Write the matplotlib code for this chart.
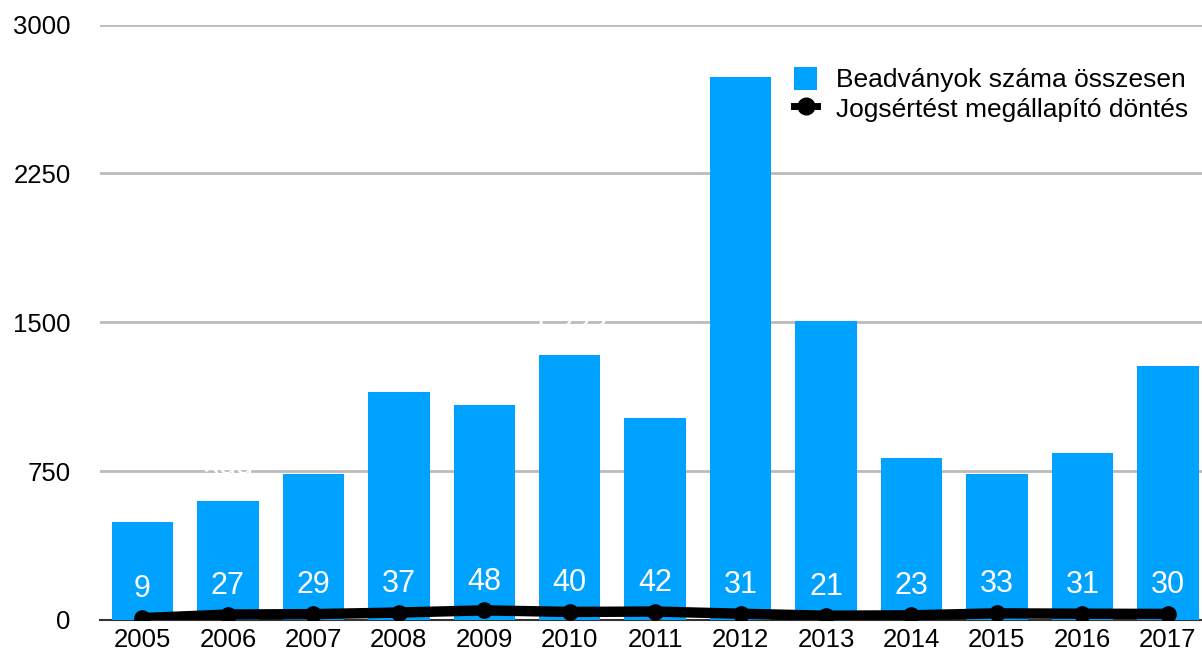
import matplotlib
matplotlib.use("Agg")
import matplotlib.pyplot as plt
from matplotlib.lines import Line2D
from matplotlib.patches import Patch

plt.rcParams['font.family'] = ['Liberation Sans', 'DejaVu Sans']

years = ['2005', '2006', '2007', '2008', '2009', '2010', '2011', '2012',
         '2013', '2014', '2015', '2016', '2017']
submissions = [491, 599, 733, 1146, 1081, 1333, 1015, 2735, 1505, 814, 733, 839, 1282]
violations = [9, 27, 29, 37, 48, 40, 42, 31, 21, 23, 33, 31, 30]
yticks = [0, 750, 1500, 2250, 3000]

bar_color = '#00A2FF'

fig = plt.figure(figsize=(12.02, 6.57), dpi=100)
ax = fig.add_axes([0.083, 0.0565, 0.917, 0.906])

x = list(range(len(years)))
ax.bar(x, submissions, width=0.72, color=bar_color, zorder=2)
for xi, v in zip(x, submissions):
    ax.text(xi, v + 60, f"{v:,}", ha='center', va='bottom', color='white',
            fontsize=22, zorder=1.5, clip_on=True)

ax.plot(x, violations, color='black', lw=7.5, marker='o', ms=11, zorder=3,
        solid_capstyle='round')
for xi, v in zip(x, violations):
    ax.text(xi, v + 105, str(v), ha='center', va='baseline', color='white',
            fontsize=22, zorder=4)

ax.set_ylim(0, 3000)
ax.set_xlim(-0.5, 12.4)
ax.set_yticks(yticks)
ax.set_yticklabels([str(t) for t in yticks])
ax.set_xticks(x)
ax.set_xticklabels(years)
ax.grid(axis='y', color='#bbbbbb', lw=2, zorder=0)
ax.set_axisbelow(True)
for s in ['top', 'right', 'left']:
    ax.spines[s].set_visible(False)
ax.spines['bottom'].set_color('#333333')
ax.spines['bottom'].set_linewidth(1.5)
ax.spines['bottom'].set_zorder(1)
ax.tick_params(axis='both', length=0, labelsize=18.5)
ax.tick_params(axis='y', pad=21)
ax.tick_params(axis='x', pad=6)

handles = [
    Patch(facecolor=bar_color, edgecolor='none'),
    Line2D([0], [0], color='black', marker='o', ms=12, lw=5),
]
labels = ['Beadványok száma összesen', 'Jogsértést megállapító döntés']
ax.legend(handles, labels, loc='upper left', bbox_to_anchor=(0.62, 0.947),
          frameon=False, fontsize=19, handlelength=0.9, handleheight=0.95,
          handletextpad=0.7, labelspacing=0.15, borderaxespad=0)

fig.savefig('out.png', dpi=100)
